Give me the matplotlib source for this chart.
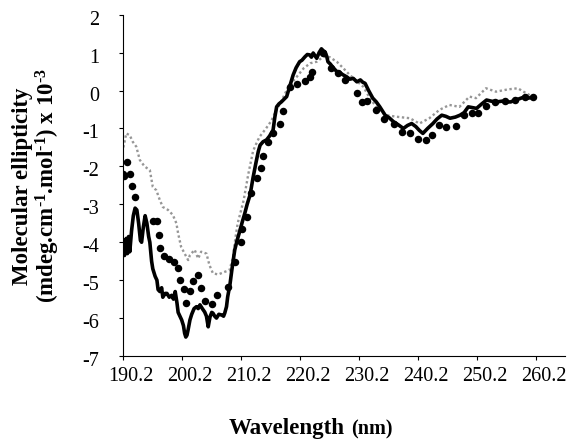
import matplotlib
matplotlib.use('Agg')
import matplotlib.pyplot as plt
from matplotlib.transforms import ScaledTranslation

# ---------------- data ----------------
solid_nm = [190.2, 190.4, 190.7, 190.9, 191.1, 191.3, 191.6, 191.9, 192.2, 192.5,
            192.8, 193.1, 193.3, 193.6, 193.9, 194.2, 194.5, 194.7, 195.0, 195.2,
            195.6, 195.9, 196.1, 196.4, 196.7, 196.9, 197.3, 197.6, 198.0, 198.4,
            198.7, 199.0, 199.3, 199.5, 199.8, 200.1, 200.4, 200.6, 200.8, 201.0,
            201.2, 201.5, 201.8, 202.2, 202.6, 202.9, 203.2, 203.6, 204.0, 204.3,
            204.6, 204.9, 205.2, 205.4, 205.7, 206.0, 206.4, 206.9, 207.2, 207.4,
            207.7, 207.9, 208.3, 208.6, 209.1, 209.5, 210.0, 210.4, 210.8, 211.2,
            211.7, 212.2, 212.7, 213.1, 213.4, 213.9, 214.5, 215.0, 215.6, 215.9,
            216.2, 216.6, 217.0, 217.5, 217.9, 218.5, 219.0, 219.5, 220.1, 220.5,
            221.0, 221.4, 221.8, 222.1, 222.4, 222.7, 223.0, 223.4, 223.8, 224.1,
            224.4, 224.7, 224.9, 225.3, 225.8, 226.4, 226.9, 227.4, 228.1, 228.6,
            229.2, 229.8, 230.4, 230.8, 231.2, 231.8, 232.5, 233.1, 233.7, 234.2,
            234.6, 235.3, 236.0, 236.8, 237.7, 238.4, 239.1, 239.8, 240.4, 241.0,
            241.8, 242.7, 243.4, 244.2, 244.9, 245.6, 246.5, 247.3, 248.0, 248.7,
            249.4, 250.1, 251.0, 251.8, 252.6, 253.5, 254.4, 255.2, 255.9, 256.6,
            257.3, 258.0, 258.8, 259.7]
solid_val = [-3.95, -4.35, -3.9, -4.3, -3.85, -4.25, -3.7, -3.3, -3.1, -3.15,
             -3.5, -3.95, -4.0, -3.6, -3.3, -3.5, -3.85, -4.0, -4.5, -4.7,
             -4.9, -5.0, -5.25, -5.3, -5.2, -5.45, -5.35, -5.35, -5.45, -5.4,
             -5.5, -5.3, -5.6, -5.85, -5.95, -6.05, -6.2, -6.4, -6.5, -6.45,
             -6.3, -6.05, -5.9, -5.75, -5.7, -5.75, -5.65, -5.75, -5.84, -5.95,
             -6.23, -5.97, -5.85, -5.87, -5.95, -6.0, -5.9, -5.92, -5.95, -5.87,
             -5.7, -5.44, -5.1, -4.74, -4.2, -3.95, -3.68, -3.45, -3.24, -3.0,
             -2.75, -2.3, -1.9, -1.6, -1.44, -1.35, -1.3, -1.2, -1.04, -0.7,
             -0.43, -0.35, -0.30, -0.22, -0.16, 0.15, 0.41, 0.6, 0.76, 0.8,
             0.89, 0.95, 0.94, 0.88, 0.99, 0.92, 0.85, 1.0, 1.1, 1.05,
             1.02, 0.9, 0.76, 0.7, 0.6, 0.5, 0.48, 0.42, 0.36, 0.3,
             0.32, 0.23, 0.28, 0.22, 0.19, 0.0, -0.2, -0.3, -0.43, -0.55,
             -0.65, -0.72, -0.82, -0.9, -1.0, -0.92, -0.87, -0.95, -1.05, -1.13,
             -1.0, -0.87, -0.75, -0.65, -0.68, -0.73, -0.7, -0.65, -0.58, -0.43,
             -0.45, -0.47, -0.35, -0.25, -0.28, -0.30, -0.28, -0.30, -0.3, -0.25,
             -0.22, -0.18, -0.2, -0.18]

dots_nm = [190.2, 190.4, 190.9, 191.3, 191.7, 192.1, 195.2, 195.9, 196.3, 196.5,
           197.1, 198.0, 198.8, 199.4, 199.8, 200.5, 200.8, 201.5, 202.1, 202.9,
           203.4, 204.0, 205.2, 206.1, 208.0, 209.1, 210.1, 210.4, 211.1, 211.9,
           212.9, 213.5, 213.9, 214.7, 215.6, 216.8, 217.3, 218.5, 219.7, 221.0,
           221.8, 222.2, 224.1, 225.5, 226.6, 227.8, 229.8, 230.7, 231.6, 233.1,
           234.4, 236.1, 237.5, 238.9, 240.2, 241.6, 242.6, 243.8, 245.0, 246.7,
           247.9, 249.3, 250.4, 251.7, 253.2, 254.9, 256.6, 258.3, 259.6]
dots_val = [-2.2, -2.25, -1.88, -2.2, -2.52, -2.8, -3.44, -3.44, -3.8, -4.15,
            -4.37, -4.43, -4.52, -4.67, -5.0, -5.24, -5.6, -5.29, -5.03, -4.87,
            -5.22, -5.55, -5.63, -5.38, -5.18, -4.52, -3.99, -3.64, -3.33, -2.71,
            -2.3, -2.05, -1.73, -1.35, -1.13, -0.88, -0.54, 0.10, 0.17, 0.25,
            0.36, 0.50, 1.0, 0.6, 0.45, 0.28, -0.07, -0.29, -0.27, -0.50,
            -0.75, -0.87, -1.10, -1.11, -1.29, -1.31, -1.16, -0.91, -0.95, -0.94,
            -0.65, -0.60, -0.58, -0.40, -0.30, -0.28, -0.25, -0.18, -0.16]

gray_nm = [190.2, 190.3, 190.7, 191.3, 191.8, 192.4, 193.0, 193.8, 194.7, 195.2,
           195.8, 196.4, 196.9, 197.8, 198.6, 199.2, 199.5, 200.0, 200.6, 201.2,
           201.5, 202.3, 202.9, 203.4, 204.3, 204.8, 205.4, 206.3, 207.4, 208.2,
           208.8, 209.2, 209.6, 210.6, 211.4, 212.2, 212.6, 213.3, 214.4, 215.3,
           216.2, 216.8, 218.2, 219.6, 220.8, 221.9, 223.0, 224.1, 225.2, 226.4,
           227.5, 228.6, 230.9, 232.0, 233.1, 234.8, 236.5, 238.8, 240.4, 242.1,
           243.8, 245.5, 247.2, 248.9, 250.0, 251.7, 253.4, 255.4, 257.1, 258.5,
           259.6]
gray_val = [-1.5, -1.44, -1.13, -1.18, -1.35, -1.48, -1.83, -2.0, -2.1, -2.54,
            -2.63, -2.89, -3.07, -3.15, -3.28, -3.5, -3.77, -4.12, -4.3, -4.47,
            -4.34, -4.2, -4.43, -4.25, -4.3, -4.6, -4.82, -4.85, -4.78, -4.74,
            -4.4, -3.9, -3.5, -2.9, -2.2, -1.6, -1.45, -1.22, -1.0, -0.8,
            -0.5, -0.34, 0.10, 0.36, 0.59, 0.72, 0.76, 0.89, 0.88, 0.76,
            0.59, 0.41, 0.10, -0.2, -0.43, -0.65, -0.69, -0.73, -0.87, -0.73,
            -0.51, -0.38, -0.43, -0.16, -0.2, 0.06, -0.03, 0.03, 0.06, -0.07,
            -0.16]

x_ticks = [190.2, 200.2, 210.2, 220.2, 230.2, 240.2, 250.2, 260.2]
x_tick_labels = ['190.2', '200.2', '210.2', '220.2', '230.2', '240.2', '250.2', '260.2']
y_ticks = [2, 1, 0, -1, -2, -3, -4, -5, -6, -7]
y_tick_labels = ['2', '1', '0', '-1', '-2', '-3', '-4', '-5', '-6', '-7']

# ---------------- style ----------------
plt.rcParams['font.family'] = ['Liberation Serif', 'DejaVu Serif']
plt.rcParams['mathtext.fontset'] = 'custom'
plt.rcParams['mathtext.rm'] = 'Liberation Serif:bold'
plt.rcParams['mathtext.it'] = 'Liberation Serif:bold'
plt.rcParams['mathtext.bf'] = 'Liberation Serif:bold'
plt.rcParams['axes.unicode_minus'] = False

W, H = 570, 443
fig = plt.figure(figsize=(W / 100, H / 100), dpi=100)
ax = fig.add_axes([123.3 / W, 1 - 356 / H, (565 - 123.3) / W, (356 - 14.7) / H])

ax.plot(gray_nm, gray_val, color='#969696', lw=1.7, linestyle=(0, (1, 1.1)),
        dash_capstyle='butt', zorder=2)
ax.plot(dots_nm, dots_val, linestyle='none', marker='o', markersize=5.4,
        color='black', markeredgewidth=0, zorder=3)
ax.plot(solid_nm, solid_val, color='black', lw=2.6, solid_joinstyle='round', zorder=4)

ax.set_xlim(190.2, 265.1)
ax.set_ylim(-7, 2)
ax.set_xticks(x_ticks)
ax.set_xticklabels(x_tick_labels)
ax.set_yticks(y_ticks)
ax.set_yticklabels(y_tick_labels)

for s in ['top', 'right']:
    ax.spines[s].set_visible(False)
for s in ['left', 'bottom']:
    ax.spines[s].set_linewidth(0.8)
    ax.spines[s].set_color('black')

ax.tick_params(axis='x', direction='out', length=3.2, width=0.8, labelsize=14.5, pad=5)
ax.tick_params(axis='y', direction='out', length=3.2, width=0.8, labelsize=14.5, pad=14)

# shift labels like the source (Excel) rendering
dx = ScaledTranslation(8 / 100, 0, fig.dpi_scale_trans)
for lab in ax.get_xticklabels():
    lab.set_transform(lab.get_transform() + dx)
dy = ScaledTranslation(0, -3 / 100, fig.dpi_scale_trans)
for lab in ax.get_yticklabels():
    lab.set_transform(lab.get_transform() + dy)

# axis titles
fig.text(37 / W, 1 - 186 / H,
         'Molecular ellipticity\n(mdeg.cm$^{\\text{-}1}$.mol$^{\\text{-}1}$) x 10$^{\\text{-}3}$',
         rotation=90, ha='center', va='center', multialignment='center',
         fontsize=16.5, fontweight='bold', linespacing=1.0)
fig.text(345 / W, 1 - 434 / H, 'Wavelength', ha='right', va='baseline',
         fontsize=16.5, fontweight='bold')
fig.text(351 / W, 1 - 434 / H, '(nm)', ha='left', va='baseline',
         fontsize=14.5, fontweight='bold')

fig.savefig('out.png', dpi=100)
